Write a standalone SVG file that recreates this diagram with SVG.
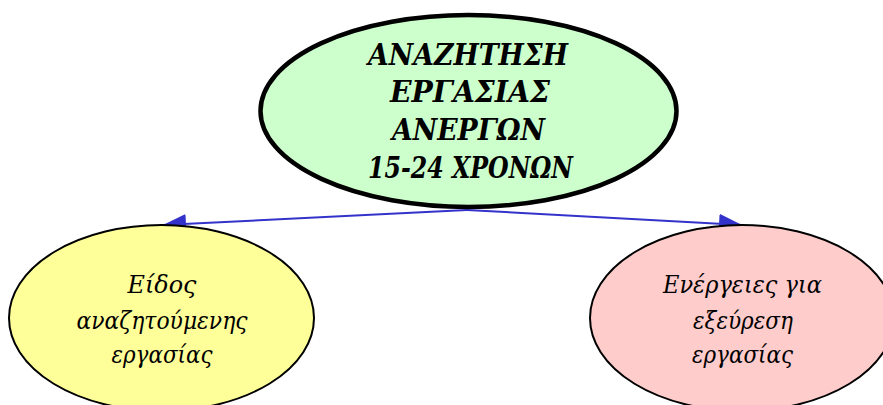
<svg xmlns="http://www.w3.org/2000/svg" width="883" height="405" viewBox="0 0 883 405">
<defs>
<marker id="arr" markerUnits="userSpaceOnUse" markerWidth="24" markerHeight="22" viewBox="0 0 24 22" refX="23" refY="11" orient="auto">
<path d="M0,1 L23,11 L0,21 Z" fill="#3333CC"/>
</marker>
<style>
.top{font-family:"DejaVu Serif","Liberation Serif",serif;font-weight:bold;font-style:italic;font-size:30px;fill:#000;text-anchor:middle}
.sub{font-family:"DejaVu Serif","Liberation Serif",serif;font-style:italic;font-size:23.5px;fill:#000;text-anchor:middle}
.edge{stroke:#3333CC;stroke-width:2;fill:none}
</style>
</defs>
<rect width="883" height="405" fill="#fff"/>
<g id="connectors">
<line class="edge" x1="467" y1="210" x2="163" y2="225" marker-end="url(#arr)"/>
<line class="edge" x1="467" y1="210" x2="742" y2="225" marker-end="url(#arr)"/>
</g>
<g id="node-left">
<ellipse cx="161.5" cy="318" rx="152.5" ry="93" fill="#FFFF99" stroke="#000" stroke-width="2"/>
<text class="sub" x="162" y="293" textLength="69" lengthAdjust="spacingAndGlyphs">Είδος</text>
<text class="sub" x="162" y="329" textLength="171" lengthAdjust="spacingAndGlyphs">αναζητούμενης</text>
<text class="sub" x="162" y="363" textLength="101" lengthAdjust="spacingAndGlyphs">εργασίας</text>
</g>
<g id="node-right">
<ellipse cx="742" cy="318" rx="152" ry="93" fill="#FFCCCC" stroke="#000" stroke-width="2"/>
<text class="sub" x="742.5" y="293" textLength="159" lengthAdjust="spacingAndGlyphs">Ενέργειες για</text>
<text class="sub" x="743" y="329" textLength="100" lengthAdjust="spacingAndGlyphs">εξεύρεση</text>
<text class="sub" x="742.5" y="363" textLength="101" lengthAdjust="spacingAndGlyphs">εργασίας</text>
</g>
<g id="node-top">
<ellipse cx="468.5" cy="111" rx="208" ry="96" fill="#CCFFCC" stroke="#000" stroke-width="4.5"/>
<text class="top" x="468" y="65" textLength="200" lengthAdjust="spacingAndGlyphs">ΑΝΑΖΗΤΗΣΗ</text>
<text class="top" x="470" y="102" textLength="160" lengthAdjust="spacingAndGlyphs">ΕΡΓΑΣΙΑΣ</text>
<text class="top" x="468.5" y="140" textLength="153" lengthAdjust="spacingAndGlyphs">ΑΝΕΡΓΩΝ</text>
<text class="top" x="470.5" y="178" textLength="205" lengthAdjust="spacingAndGlyphs">15-24 ΧΡΟΝΩΝ</text>
</g>
</svg>
